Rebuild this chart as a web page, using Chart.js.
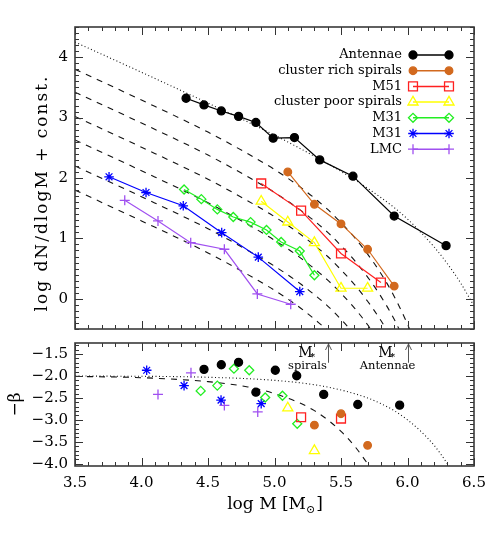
<!DOCTYPE html>
<html>
<head>
<meta charset="utf-8">
<script src="https://cdn.jsdelivr.net/npm/chart.js@4.4.1/dist/chart.umd.min.js"></script>
<style>
  html, body { margin: 0; padding: 0; background: #fff; }
  #wrap { position: relative; width: 498px; height: 549px; }
  canvas { position: absolute; left: 0; top: 0; }
</style>
</head>
<body>
<div id="wrap">
  <canvas id="top" width="498" height="549"></canvas>
  <canvas id="bot" width="498" height="549"></canvas>
</div>
<script>
// tick labels
const xTicks = [3.5, 4.0, 4.5, 5.0, 5.5, 6.0, 6.5];
const topYTicks = [0, 1, 2, 3, 4];
const botYTicks = [-4.0, -3.5, -3.0, -2.5, -2.0, -1.5];

// legend names, same order as the series below
const names = ["Antennae", "cluster rich spirals", "M51", "cluster poor spirals", "M31", "M31", "LMC"];

// upper panel: log dN/dlogM + const. against log M
const antX = [4.335, 4.47, 4.60, 4.73, 4.86, 4.99, 5.15, 5.34, 5.59, 5.90, 6.29];
const antY = [3.32, 3.21, 3.11, 3.02, 2.92, 2.66, 2.67, 2.30, 2.03, 1.37, 0.88];
const richX = [5.10, 5.30, 5.50, 5.70, 5.90];
const richY = [2.10, 1.565, 1.24, 0.82, 0.21];
const m51X = [4.90, 5.20, 5.50, 5.80];
const m51Y = [1.91, 1.46, 0.75, 0.27];
const poorX = [4.90, 5.10, 5.30, 5.50, 5.70];
const poorY = [1.615, 1.27, 0.93, 0.175, 0.175];
const m31aX = [4.32, 4.45, 4.57, 4.69, 4.82, 4.94, 5.05, 5.19, 5.30];
const m31aY = [1.81, 1.65, 1.48, 1.355, 1.27, 1.14, 0.94, 0.79, 0.39];
const m31bX = [3.756, 4.034, 4.314, 4.603, 4.878, 5.19];
const m31bY = [2.02, 1.76, 1.54, 1.095, 0.69, 0.12];
const lmcX = [3.874, 4.124, 4.37, 4.623, 4.871, 5.122];
const lmcY = [1.63, 1.29, 0.93, 0.82, 0.08, -0.09];

// upper panel model curves
const modelX = [3.5, 4.0, 4.5, 4.8, 5.0, 5.2, 5.4, 5.5, 5.6, 5.7, 5.8, 5.9, 6.0, 6.1];
const dashA = [3.80, 3.29, 2.76, 2.40, 2.14, 1.84, 1.48, 1.26, 1.02, 0.74, 0.42, 0.04, -0.42, -0.97];
const dashB = [3.42, 2.91, 2.38, 2.02, 1.76, 1.46, 1.10, 0.88, 0.64, 0.36, 0.04, -0.34, -0.80];
const dashC = [3.02, 2.51, 1.98, 1.62, 1.36, 1.06, 0.70, 0.48, 0.24, -0.04, -0.36, -0.74];
const dashD = [2.63, 2.12, 1.59, 1.23, 0.97, 0.67, 0.31, 0.09, -0.15, -0.43, -0.75];
const dashE = [2.20, 1.69, 1.16, 0.80, 0.54, 0.24, -0.12, -0.34, -0.58];
const dashF = [1.80, 1.29, 0.76, 0.40, 0.14, -0.16, -0.52];
const dotX = [3.5, 4.0, 4.5, 5.0, 5.3, 5.5, 5.7, 5.9, 6.0, 6.1, 6.2, 6.3, 6.4, 6.5];
const dotY = [4.25, 3.75, 3.24, 2.71, 2.36, 2.11, 1.83, 1.51, 1.32, 1.10, 0.86, 0.58, 0.26, -0.12];

// lower panel: -beta against log M
const antBX = [4.47, 4.60, 4.73, 4.86, 5.006, 5.167, 5.37, 5.626, 5.941];
const antBY = [-1.85, -1.745, -1.69, -2.37, -1.87, -1.995, -2.42, -2.65, -2.665];
const richBX = [5.30, 5.50, 5.70];
const richBY = [-3.12, -2.86, -3.58];
const m51BX = [5.20, 5.50];
const m51BY = [-2.94, -2.97];
const poorBX = [5.10, 5.30];
const poorBY = [-2.73, -3.70];
const m31aBX = [4.445, 4.57, 4.695, 4.81, 4.93, 5.06, 5.171];
const m31aBY = [-2.34, -2.22, -1.835, -1.87, -2.49, -2.45, -3.09];
const m31bBX = [4.039, 4.32, 4.598, 4.90];
const m31bBY = [-1.87, -2.22, -2.55, -2.63];
const lmcBX = [4.124, 4.372, 4.623, 4.874];
const lmcBY = [-2.42, -1.93, -2.67, -2.82];

const betaDashX = [3.5, 4.0, 4.5, 4.8, 5.0, 5.2, 5.3, 5.4, 5.5, 5.6, 5.7, 5.75];
const betaDashY = [-2.01, -2.04, -2.13, -2.25, -2.40, -2.63, -2.79, -3.00, -3.26, -3.59, -4.00, -4.24];
const betaDotX = [3.5, 4.5, 5.0, 5.3, 5.5, 5.7, 5.8, 5.9, 6.0, 6.1, 6.2, 6.3, 6.35];
const betaDotY = [-2.00, -2.03, -2.10, -2.20, -2.32, -2.50, -2.63, -2.79, -3.00, -3.26, -3.58, -4.00, -4.24];

// characteristic masses marked with arrows
const mstarX = [5.4, 6.0];
const mstarNames = ["spirals", "Antennae"];

// styles, one per series
const seriesStyles = [
  { color: "#000000", fill: "#000000", style: "circle", r: 4 },
  { color: "#d2691e", fill: "#d2691e", style: "circle", r: 3.8 },
  { color: "#ff2020", fill: "rgba(0,0,0,0)", style: "rect", r: 6.3 },
  { color: "#ffff00", fill: "rgba(0,0,0,0)", style: "triangle", r: 5.8 },
  { color: "#22ee22", fill: "rgba(0,0,0,0)", style: "rectRot", r: 4.5 },
  { color: "#0000ff", fill: "#0000ff", style: "star", r: 4.8 },
  { color: "#a050f0", fill: "#a050f0", style: "cross", r: 5 }
];

const SERIF = '"DejaVu Serif", serif';
Chart.defaults.font.family = SERIF;
Chart.defaults.color = "#000";

function pts(xs, ys) {
  return ys.map((y, i) => ({ x: xs[i], y: y }));
}

function series(xs, ys, st, line) {
  return {
    data: pts(xs, ys),
    showLine: line,
    borderColor: st.color,
    borderWidth: 1.2,
    backgroundColor: st.fill,
    pointStyle: st.style,
    pointRadius: st.r,
    pointHoverRadius: st.r,
    pointBorderColor: st.color,
    pointBackgroundColor: st.fill,
    pointBorderWidth: 1.3,
    tension: 0
  };
}

function model(xs, ys, dash) {
  return {
    data: pts(xs, ys),
    showLine: true,
    borderColor: "#111",
    borderWidth: 1.1,
    borderDash: dash,
    pointRadius: 0,
    cubicInterpolationMode: "monotone",
    fill: false
  };
}

const DASH = [6, 6];
const DOT = [1, 2.5];

function fixWidth(w) {
  return s => {
    s.width = w;
    s.paddingTop = 0; s.paddingBottom = 0; s.paddingLeft = 0; s.paddingRight = 0;
  };
}
function fixHeight(h) {
  return s => {
    s.height = h;
    s.paddingTop = 0; s.paddingBottom = 0; s.paddingLeft = 0; s.paddingRight = 0;
  };
}

// frame with inward ticks on all four sides
function framePlugin(xMajor, yMajor) {
  return {
    id: "frame",
    afterDraw(chart) {
      const ctx = chart.ctx;
      const a = chart.chartArea;
      const x = chart.scales.x, y = chart.scales.y;
      const isMajor = (v, m) => Math.abs(v / m - Math.round(v / m)) < 1e-6;
      ctx.save();
      ctx.strokeStyle = "#333";
      ctx.lineWidth = 1;
      ctx.beginPath();
      for (let i = Math.ceil(x.min * 10 - 1e-6); i <= Math.floor(x.max * 10 + 1e-6); i++) {
        const v = i / 10;
        const px = Math.round(x.getPixelForValue(v)) + 0.5;
        const len = isMajor(v, xMajor) ? 8 : 4;
        ctx.moveTo(px, a.bottom); ctx.lineTo(px, a.bottom - len);
        ctx.moveTo(px, a.top); ctx.lineTo(px, a.top + len);
      }
      for (let i = Math.ceil(y.min * 10 - 1e-6); i <= Math.floor(y.max * 10 + 1e-6); i++) {
        const v = i / 10;
        const py = Math.round(y.getPixelForValue(v)) + 0.5;
        const len = isMajor(v, yMajor) ? 8 : 4;
        ctx.moveTo(a.left, py); ctx.lineTo(a.left + len, py);
        ctx.moveTo(a.right, py); ctx.lineTo(a.right - len, py);
      }
      ctx.stroke();
      ctx.lineWidth = 1.6;
      ctx.strokeStyle = "#3a3a3a";
      ctx.strokeRect(a.left, a.top, a.right - a.left, a.bottom - a.top);
      ctx.restore();
    }
  };
}

function drawMarker(ctx, st, x, y) {
  ctx.fillStyle = st.fill;
  ctx.strokeStyle = st.color;
  ctx.lineWidth = 1.3;
  Chart.helpers.drawPoint(ctx, { pointStyle: st.style, radius: st.r, rotation: 0, borderWidth: 1.3 }, x, y);
}

const legendPlugin = {
  id: "legendBox",
  afterDraw(chart) {
    const ctx = chart.ctx;
    ctx.save();
    ctx.font = "13px " + SERIF;
    ctx.textAlign = "right";
    ctx.textBaseline = "middle";
    names.forEach((name, i) => {
      const st = seriesStyles[i];
      const y = 55 + i * 15.7;
      ctx.fillStyle = "#000";
      ctx.fillText(name, 402, y);
      ctx.strokeStyle = st.color;
      ctx.lineWidth = 1.5;
      ctx.beginPath(); ctx.moveTo(413, y); ctx.lineTo(449, y); ctx.stroke();
      drawMarker(ctx, st, 413, y);
      drawMarker(ctx, st, 449, y);
    });
    // y axis title of upper panel
    ctx.fillStyle = "#000";
    ctx.translate(43, 193);
    ctx.rotate(-Math.PI / 2);
    ctx.font = "17px " + SERIF;
    ctx.letterSpacing = "2px";
    ctx.textAlign = "center";
    ctx.fillText("log dN/dlogM + const.", 0, 0);
    ctx.restore();
  }
};

const labelsPlugin = {
  id: "labels",
  afterDraw(chart) {
    const ctx = chart.ctx;
    const x = chart.scales.x, y = chart.scales.y;
    const a = chart.chartArea;
    ctx.save();
    ctx.fillStyle = "#000";
    ctx.textBaseline = "middle";
    // x title with subscript sun symbol
    const p1 = "log M [M", p3 = "]";
    ctx.font = "17px " + SERIF;
    const w1 = ctx.measureText(p1).width, w3 = ctx.measureText(p3).width;
    ctx.font = "11px " + SERIF;
    const w2 = ctx.measureText("\u2299").width;
    const cx = (a.left + a.right) / 2 - (w1 + w2 + w3) / 2;
    ctx.textAlign = "left";
    ctx.font = "17px " + SERIF;
    ctx.fillText(p1, cx, 505);
    ctx.font = "11px " + SERIF;
    ctx.fillText("\u2299", cx + w1, 510);
    ctx.font = "17px " + SERIF;
    ctx.fillText(p3, cx + w1 + w2 + 1, 505);
    // y title
    ctx.save();
    ctx.translate(16, (a.top + a.bottom) / 2);
    ctx.rotate(-Math.PI / 2);
    ctx.textAlign = "center";
    ctx.font = "17px " + SERIF;
    ctx.fillText("\u2212\u03B2", 0, 0);
    ctx.restore();
    // arrows for M*
    mstarX.forEach((m, i) => {
      const px = Math.round(x.getPixelForValue(m)) + 0.5;
      const base = y.getPixelForValue(-1.7);
      ctx.strokeStyle = "#555";
      ctx.lineWidth = 1;
      ctx.beginPath();
      ctx.moveTo(px, base); ctx.lineTo(px, a.top + 1);
      ctx.moveTo(px - 3, a.top + 7); ctx.lineTo(px, a.top + 1); ctx.lineTo(px + 3, a.top + 7);
      ctx.stroke();
      const tx = px - 21;
      ctx.textAlign = "center";
      ctx.font = "14px " + SERIF;
      ctx.fillText("M", tx - 2, 353);
      ctx.font = "bold 9px " + SERIF;
      ctx.fillText("*", tx + 5, 358);
      ctx.font = "11.5px " + SERIF;
      ctx.fillText(mstarNames[i], tx, 366);
    });
    ctx.restore();
  }
};

const tickFont = { family: SERIF, size: 15 };

new Chart(document.getElementById("top"), {
  type: "scatter",
  data: {
    datasets: [
      series(antX, antY, seriesStyles[0], true),
      series(richX, richY, seriesStyles[1], true),
      series(m51X, m51Y, seriesStyles[2], true),
      series(poorX, poorY, seriesStyles[3], true),
      series(m31aX, m31aY, seriesStyles[4], true),
      series(m31bX, m31bY, seriesStyles[5], true),
      series(lmcX, lmcY, seriesStyles[6], true),
      model(modelX, dashA, DASH),
      model(modelX, dashB, DASH),
      model(modelX, dashC, DASH),
      model(modelX, dashD, DASH),
      model(modelX, dashE, DASH),
      model(modelX, dashF, DASH),
      model(dotX, dotY, DOT)
    ]
  },
  options: {
    responsive: false,
    devicePixelRatio: 1,
    animation: false,
    events: [],
    layout: { padding: { left: 0, top: 27, right: 24, bottom: 220 } },
    plugins: { legend: { display: false }, tooltip: { enabled: false } },
    scales: {
      x: { type: "linear", min: 3.5, max: 6.5, display: false },
      y: {
        type: "linear", min: -0.5, max: 4.5,
        afterBuildTicks: s => { s.ticks = topYTicks.map(v => ({ value: v })); },
        afterFit: fixWidth(75),
        ticks: { font: tickFont, color: "#000", padding: 7, callback: v => String(v) },
        grid: { display: false, drawTicks: false },
        border: { display: false }
      }
    }
  },
  plugins: [framePlugin(0.5, 1), legendPlugin]
});

new Chart(document.getElementById("bot"), {
  type: "scatter",
  data: {
    datasets: [
      series(antBX, antBY, seriesStyles[0], false),
      series(richBX, richBY, seriesStyles[1], false),
      series(m51BX, m51BY, seriesStyles[2], false),
      series(poorBX, poorBY, seriesStyles[3], false),
      series(m31aBX, m31aBY, seriesStyles[4], false),
      series(m31bBX, m31bBY, seriesStyles[5], false),
      series(lmcBX, lmcBY, seriesStyles[6], false),
      model(betaDashX, betaDashY, DASH),
      model(betaDotX, betaDotY, DOT)
    ]
  },
  options: {
    responsive: false,
    devicePixelRatio: 1,
    animation: false,
    events: [],
    layout: { padding: { left: 0, top: 343, right: 24, bottom: 53 } },
    plugins: { legend: { display: false }, tooltip: { enabled: false } },
    scales: {
      x: {
        type: "linear", min: 3.5, max: 6.5,
        afterBuildTicks: s => { s.ticks = xTicks.map(v => ({ value: v })); },
        afterFit: fixHeight(30),
        ticks: { font: tickFont, color: "#000", padding: 8, maxRotation: 0, autoSkip: false, callback: v => v.toFixed(1) },
        grid: { display: false, drawTicks: false },
        border: { display: false }
      },
      y: {
        type: "linear", min: -4.05, max: -1.25,
        afterBuildTicks: s => { s.ticks = botYTicks.map(v => ({ value: v })); },
        afterFit: fixWidth(75),
        ticks: { font: tickFont, color: "#000", padding: 7, autoSkip: false, callback: v => v.toFixed(1).replace("-", "\u2212") },
        grid: { display: false, drawTicks: false },
        border: { display: false }
      }
    }
  },
  plugins: [framePlugin(0.5, 0.5), labelsPlugin]
});
</script>
</body>
</html>
